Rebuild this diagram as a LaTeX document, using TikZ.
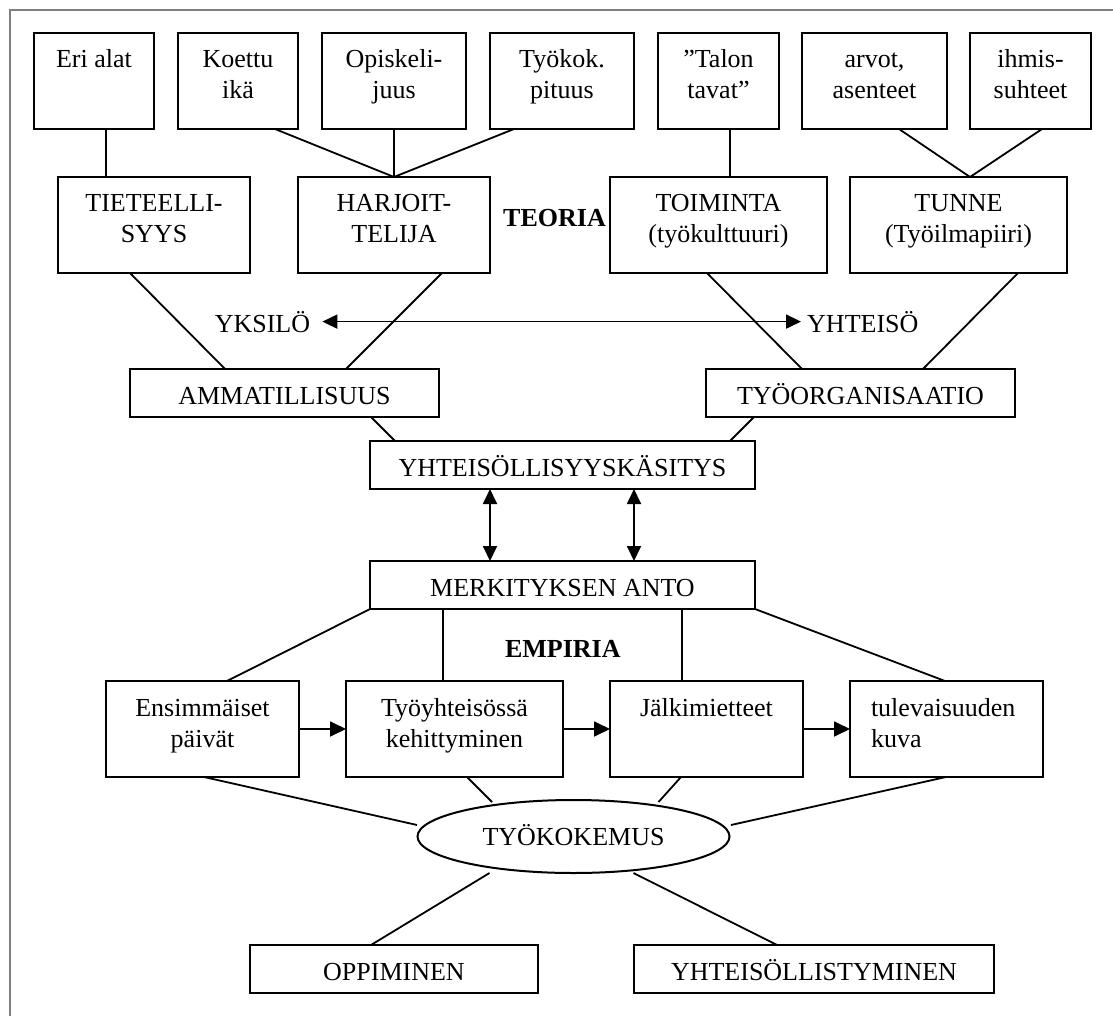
\documentclass[tikz,border=0pt]{standalone}
\usepackage{fontspec}
\setmainfont{Liberation Serif}
\usetikzlibrary{arrows.meta,shapes.geometric}
\newcommand{\tb}[3]{\parbox[t][#2][t]{#1}{\centering\rule{0pt}{35pt}#3\par}}
\definecolor{framegray}{RGB}{128,128,128}
\begin{document}
\begin{tikzpicture}[x=1pt,y=-1pt,
  font=\fontsize{26}{31}\selectfont,
  box/.style={draw, line width=2pt, inner sep=0pt, outer sep=0pt, anchor=north west},
  ln/.style={line width=1.8pt},
  arr/.style={ln, -{Triangle[length=16pt,width=15pt]}},
  darr/.style={ln, {Triangle[length=15pt,width=14pt]}-{Triangle[length=15pt,width=14pt]}},
  lbl/.style={inner sep=0pt, anchor=base},
  bold/.style={inner sep=0pt, anchor=base, font=\fontsize{26}{31}\selectfont\bfseries}]
\useasboundingbox (0,0) rectangle (1113,1016);
\draw[framegray, line width=2pt] (1113,10) -- (10,10) -- (10,1016);

% top row
\node[box] (eri) at (34,33) {\tb{120pt}{96pt}{Eri alat}};
\node[box] (koe) at (178,33) {\tb{120pt}{96pt}{Koettu\\ikä}};
\node[box] (opi) at (322,33) {\tb{144pt}{96pt}{Opiskeli-\\juus}};
\node[box] (tyk) at (490,33) {\tb{144pt}{96pt}{Työkok.\\pituus}};
\node[box] (tal) at (658,33) {\tb{121pt}{96pt}{”Talon\\tavat”}};
\node[box] (arv) at (802,33) {\tb{145pt}{96pt}{arvot,\\asenteet}};
\node[box] (ihm) at (970,33) {\tb{121pt}{96pt}{ihmis-\\suhteet}};

% second row
\node[box] (tie) at (58,177) {\tb{192pt}{96pt}{TIETEELLI-\\SYYS}};
\node[box] (har) at (298,177) {\tb{192pt}{96pt}{HARJOIT-\\TELIJA}};
\node[box] (toi) at (610,177) {\tb{217pt}{96pt}{TOIMINTA\\(työkulttuuri)}};
\node[box] (tun) at (850,177) {\tb{217pt}{96pt}{TUNNE\\(Työilmapiiri)}};
\node[bold] (teoria) at (554.5,227) {TEORIA};

\node[lbl] (yks) at (262.5,332) {YKSILÖ};
\node[lbl, anchor=base west] (yht) at (807,332) {YHTEISÖ};

\node[box] (amm) at (130,369) {\tb{309pt}{48pt}{AMMATILLISUUS}};
\node[box] (tyo) at (706,369) {\tb{309pt}{48pt}{TYÖORGANISAATIO}};
\node[box] (ykt) at (370,441) {\tb{385pt}{48pt}{YHTEISÖLLISYYSKÄSITYS}};
\node[box] (merk) at (370,561) {\tb{385pt}{48pt}{MERKITYKSEN ANTO}};
\node[bold] (emp) at (562.8,657) {EMPIRIA};

% bottom row
\node[box] (ens) at (106,681) {\tb{193pt}{96pt}{Ensimmäiset\\päivät}};
\node[box] (tyh) at (346,681) {\tb{217pt}{96pt}{Työyhteisössä\\kehittyminen}};
\node[box] (jal) at (610,681) {\tb{193pt}{96pt}{Jälkimietteet}};
\node[box] (tul) at (850,681) {\parbox[t][96pt][t]{193pt}{\raggedright\leftskip=21pt\rule{0pt}{35pt}tulevaisuuden\\kuva\par}};

\node[draw, ellipse, line width=2pt, inner sep=0pt, minimum width=312pt, minimum height=73pt,
      text height=17pt, text depth=0pt] (tk) at (573.5,836.5) {TYÖKOKEMUS};

\node[box] (opp) at (250,945) {\tb{288pt}{48pt}{OPPIMINEN}};
\node[box] (yst) at (634,945) {\tb{360pt}{48pt}{YHTEISÖLLISTYMINEN}};

% connectors top
\draw[ln] (106,0 |- eri.south) -- (106,0 |- tie.north);
\draw[ln] (275,0 |- koe.south) -- (har.north);
\draw[ln] (opi.south) -- (har.north);
\draw[ln] (514,0 |- tyk.south) -- (har.north);
\draw[ln] (730,0 |- tal.south) -- (730,0 |- toi.north);
\draw[ln] (899,0 |- arv.south) -- (970,0 |- tun.north);
\draw[ln] (1042,0 |- ihm.south) -- (970,0 |- tun.north);
\draw[ln] (130,0 |- tie.south) -- (225,0 |- amm.north);
\draw[ln] (442,0 |- har.south) -- (346,0 |- amm.north);
\draw[ln] (707,0 |- toi.south) -- (802,0 |- tyo.north);
\draw[ln] (1018,0 |- tun.south) -- (923,0 |- tyo.north);
\draw[darr] ([xshift=12pt]yks.east) -- ([xshift=-6pt]yht.west);
\draw[ln] (371,0 |- amm.south) -- (395,0 |- ykt.north);
\draw[ln] (754,0 |- tyo.south) -- (730,0 |- ykt.north);
\draw[darr] (490,0 |- ykt.south) -- (490,0 |- merk.north);
\draw[darr] (634,0 |- ykt.south) -- (634,0 |- merk.north);

% connectors bottom
\draw[ln] (merk.south west) -- (227,0 |- ens.north);
\draw[ln] (443,0 |- merk.south) -- (443,0 |- tyh.north);
\draw[ln] (682,0 |- merk.south) -- (682,0 |- jal.north);
\draw[ln] (merk.south east) -- (945,0 |- tul.north);
\draw[arr] (ens.east) -- (tyh.west);
\draw[arr] (tyh.east) -- (jal.west);
\draw[arr] (jal.east) -- (tul.west);
\draw[ln] (204,0 |- ens.south) -- ([shift={(-156.5,-11.5)}]tk.center);
\draw[ln] (467,0 |- tyh.south) -- ([shift={(-81.5,-34.5)}]tk.center);
\draw[ln] (681,0 |- jal.south) -- ([shift={(85,-34.5)}]tk.center);
\draw[ln] (946,0 |- tul.south) -- ([shift={(157.5,-11.5)}]tk.center);
\draw[ln] ([shift={(-84,36.5)}]tk.center) -- (371,0 |- opp.north);
\draw[ln] ([shift={(60,36.5)}]tk.center) -- (777,0 |- yst.north);
\end{tikzpicture}
\end{document}
